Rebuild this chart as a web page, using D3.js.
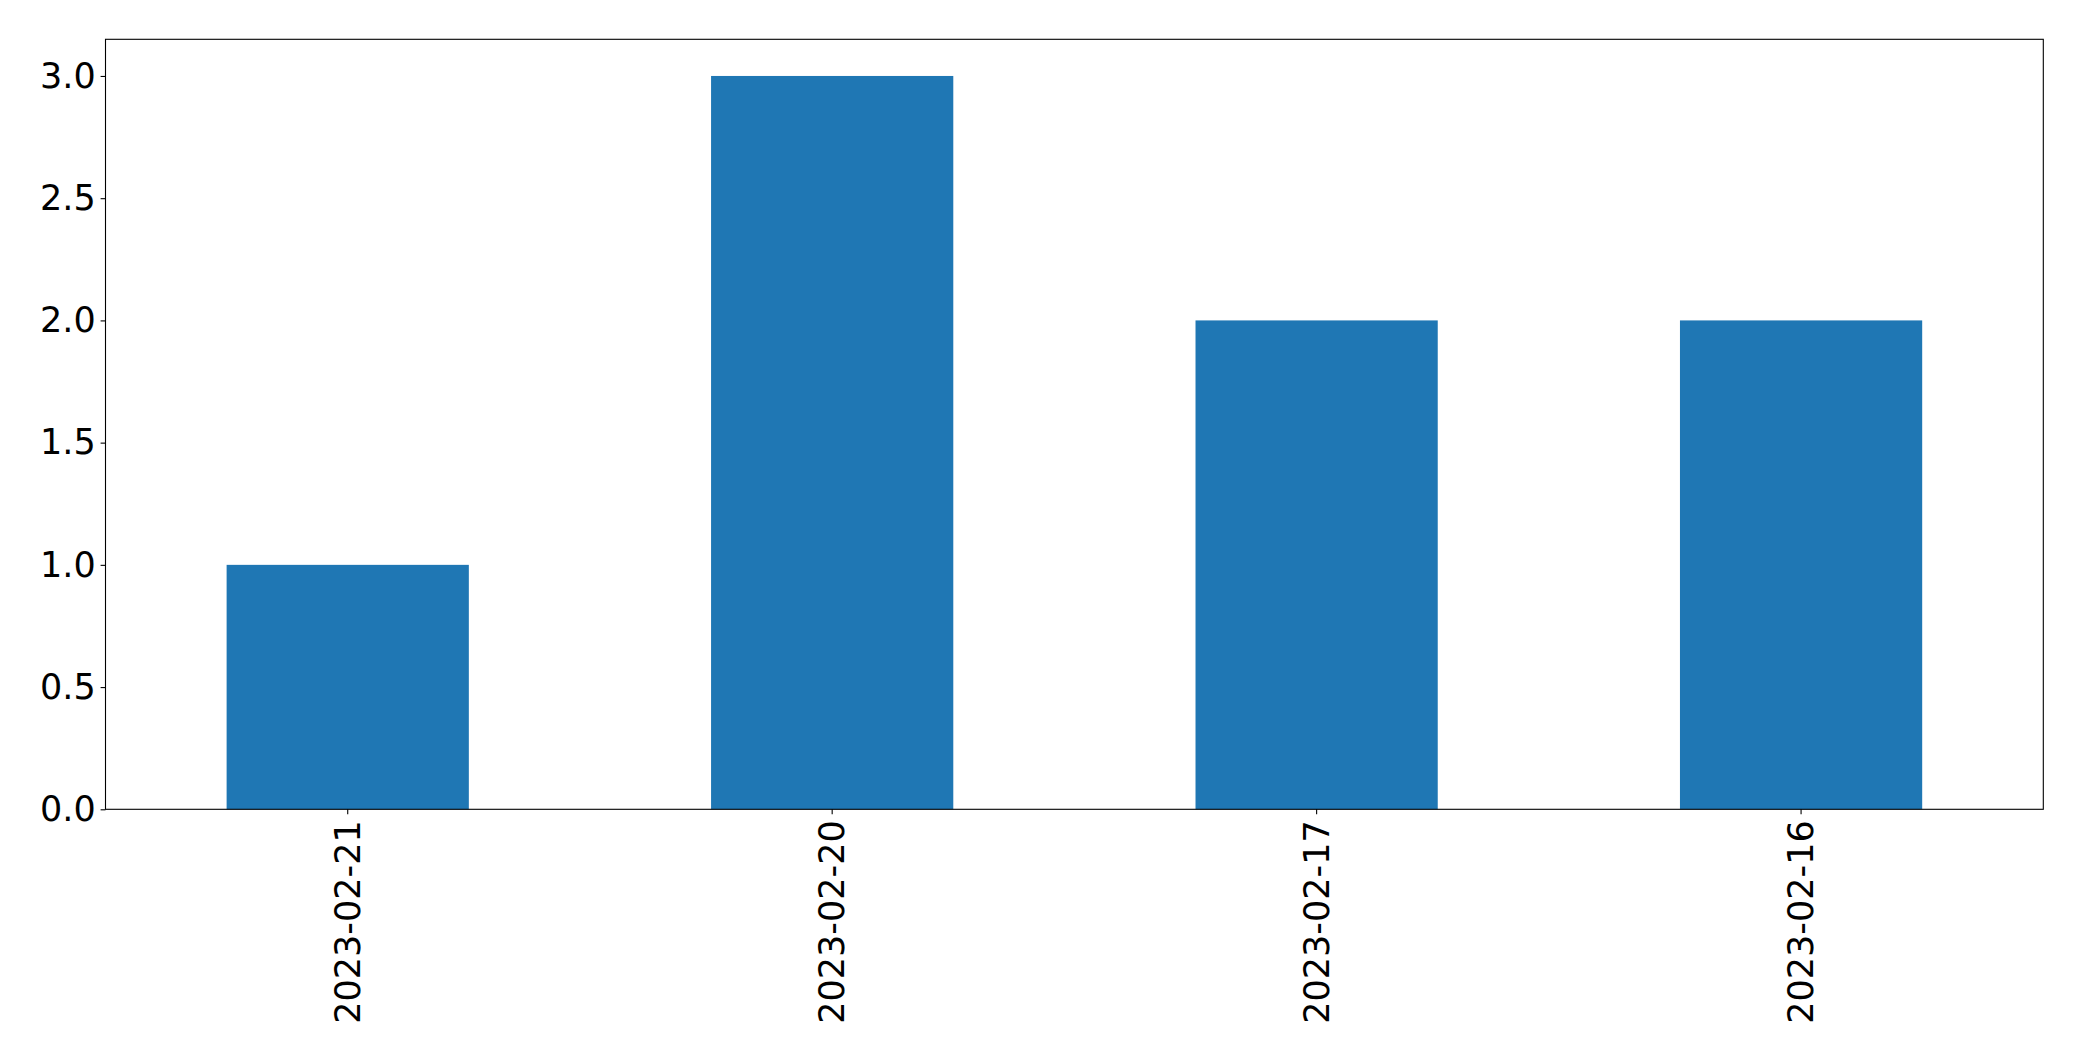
<!DOCTYPE html>
<html><head><meta charset="utf-8">
<script src="https://cdn.jsdelivr.net/npm/d3@7"></script>
<style>body{margin:0;background:#fff}svg{display:block}</style>
</head><body>
<script>
const categories = ["2023-02-21","2023-02-20","2023-02-17","2023-02-16"];
const values = [1, 3, 2, 2];
const yTicks = [0, 0.5, 1.0, 1.5, 2.0, 2.5, 3.0];

const W = 2082, H = 1061;
const m = {left: 105.5, top: 39.3, right: 2043.3, bottom: 809.3};
const svg = d3.select("body").append("svg").attr("width", W).attr("height", H);
const x = d3.scaleBand().domain(categories).range([m.left, m.right]).paddingInner(0.5).paddingOuter(0.25);
const y = d3.scaleLinear().domain([0, 3.15]).range([m.bottom, m.top]);

svg.selectAll("rect.bar").data(values).enter().append("rect")
  .attr("class","bar")
  .attr("x", (d,i) => x(categories[i]))
  .attr("width", x.bandwidth())
  .attr("y", d => y(d))
  .attr("height", d => y(0) - y(d))
  .attr("fill", "#1f77b4");

const font = "'DejaVu Sans', sans-serif";
const yAxis = svg.append("g").attr("transform", `translate(${m.left},0)`)
  .call(d3.axisLeft(y).tickValues(yTicks).tickFormat(d3.format(".1f")).tickSize(4.9).tickPadding(4.9));
const xAxis = svg.append("g").attr("transform", `translate(0,${m.bottom})`)
  .call(d3.axisBottom(x).tickSize(4.9).tickPadding(4.9));
[xAxis, yAxis].forEach(g => {
  g.attr("font-family", null).attr("font-size", null);
  g.select(".domain").remove();
  g.selectAll("line").attr("stroke", "#000").attr("stroke-width", 1.1);
  g.selectAll("text").attr("fill", "#000").style("font-family", font).style("font-size", "35px");
});
xAxis.selectAll("text")
  .attr("transform", "rotate(-90)")
  .attr("x", -11).attr("y", 0).attr("dy", "0.35em")
  .attr("text-anchor", "end");

svg.append("rect").attr("x", m.left).attr("y", m.top)
  .attr("width", m.right - m.left).attr("height", m.bottom - m.top)
  .attr("fill", "none").attr("stroke", "#000").attr("stroke-width", 1.1);
</script>
</body></html>
